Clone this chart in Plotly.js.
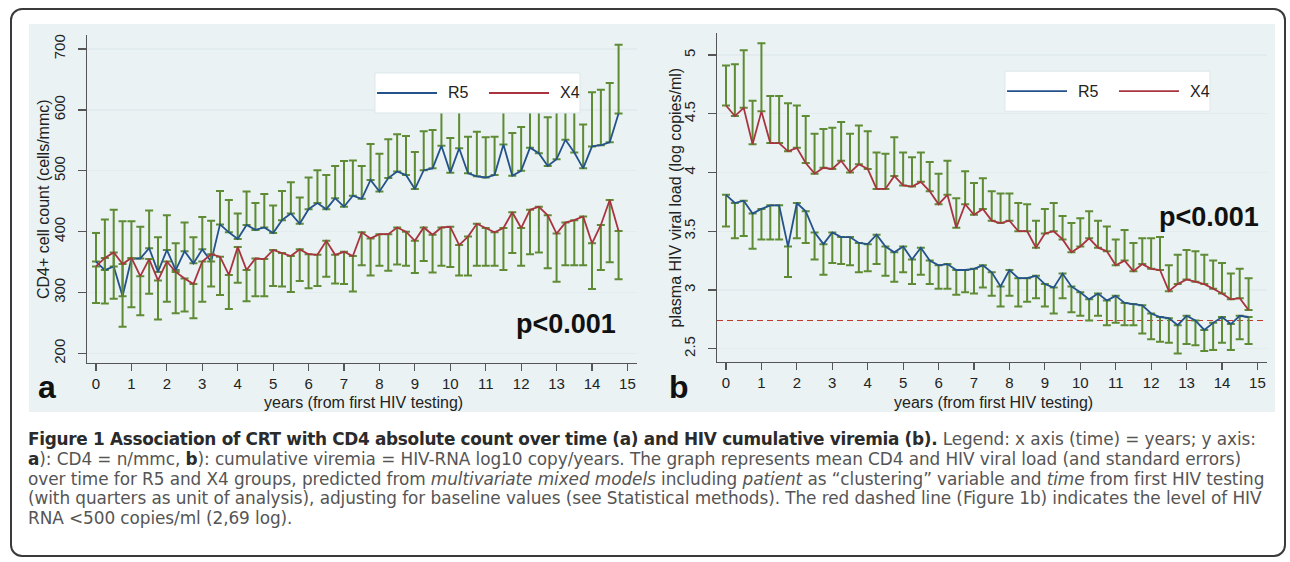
<!DOCTYPE html>
<html>
<head>
<meta charset="utf-8">
<script src="https://cdn.plot.ly/plotly-3.0.1.min.js"></script>
<style>
html,body{margin:0;padding:0;background:#ffffff;}
#wrap{position:relative;width:1290px;height:562px;overflow:hidden;background:#fff;}
#chart{position:absolute;left:0;top:0;width:1290px;height:562px;}
#frame{position:absolute;left:10px;top:8px;width:1276px;height:549px;border:2px solid #3a3a3a;border-radius:12px;pointer-events:none;box-sizing:border-box;}
#caption{position:absolute;left:28px;top:430px;width:1255px;font-family:"DejaVu Sans",Verdana,sans-serif;font-size:16.9px;line-height:19.8px;color:#555;}
#caption div{white-space:nowrap;}
#caption b{color:#2b2b2b;}
</style>
</head>
<body>
<div id="wrap">
  <div id="chart"></div>
  <div id="frame"></div>
  <div id="caption">
    <div><span class="capline"><b id="capTitle">Figure 1 Association of CRT with CD4 absolute count over time (a) and HIV cumulative viremia (b).</b> Legend: x axis (time) = years; y axis:</span></div>
    <div><span class="capline"><b>a</b>): CD4 = n/mmc, <b>b</b>): cumulative viremia = HIV-RNA log10 copy/years. The graph represents mean CD4 and HIV viral load (and standard errors)</span></div>
    <div><span class="capline">over time for R5 and X4 groups, predicted from <i>multivariate mixed models</i> including <i>patient</i> as “clustering” variable and <i>time</i> from first HIV testing</span></div>
    <div><span class="capline">(with quarters as unit of analysis), adjusting for baseline values (see Statistical methods). The red dashed line (Figure 1b) indicates the level of HIV</span></div>
    <div><span class="capline">RNA &lt;500 copies/ml (2,69 log).</span></div>
  </div>
</div>
<script>
// ---------------- data ----------------
const years = [0,0.25,0.5,0.75,1,1.25,1.5,1.75,2,2.25,2.5,2.75,3,3.25,3.5,3.75,4,4.25,4.5,4.75,
  5,5.25,5.5,5.75,6,6.25,6.5,6.75,7,7.25,7.5,7.75,8,8.25,8.5,8.75,9,9.25,9.5,9.75,
  10,10.25,10.5,10.75,11,11.25,11.5,11.75,12,12.25,12.5,12.75,13,13.25,13.5,13.75,14,14.25,14.5,14.75];

const groupNames = ["R5", "X4"];

// Panel a: CD4+ cell count (cells/mmc)
const cd4R5 = [351,337,343,294,356,356,373,334,370,337,368,348,371,351,412,399,388,411,403,407,
  398,419,430,413,437,447,437,455,441,459,454,485,466,488,499,493,470,501,504,541,
  497,537,496,491,489,493,543,492,500,538,529,508,519,551,530,504,540,542,547,594];
const cd4R5Upper = [398,420,436,417,417,408,435,391,427,381,415,391,424,418,467,452,430,466,447,462,
  443,467,481,456,489,501,493,508,516,517,508,544,528,552,560,557,531,565,567,605,
  554,605,556,564,555,556,605,562,572,600,600,588,605,610,600,576,629,633,644,707];
const cd4X4 = [343,357,366,347,357,327,355,320,351,334,323,314,351,363,359,329,375,337,356,355,
  370,365,360,371,363,362,385,362,367,360,399,389,396,396,407,400,385,407,395,407,
  408,378,392,413,406,399,406,432,406,436,441,427,397,415,419,425,381,411,452,401];
const cd4X4Lower = [283,282,290,244,276,263,298,256,285,266,269,258,285,310,296,273,316,286,294,294,
  311,310,301,319,307,311,326,315,314,302,345,328,344,336,346,344,332,352,333,344,
  342,328,328,344,344,344,337,365,344,363,366,340,318,345,345,345,306,337,350,322];

// Panel b: plasma HIV viral load (log copies/ml)
const vlR5 = [3.81,3.74,3.76,3.65,3.69,3.72,3.72,3.37,3.74,3.67,3.49,3.39,3.49,3.45,3.45,3.40,3.39,3.47,3.37,3.32,
  3.37,3.26,3.36,3.25,3.21,3.22,3.17,3.17,3.18,3.21,3.15,3.03,3.17,3.10,3.10,3.12,3.05,3.02,3.14,3.03,
  2.98,2.92,2.97,2.91,2.95,2.89,2.88,2.87,2.80,2.77,2.76,2.70,2.78,2.74,2.66,2.72,2.77,2.71,2.78,2.77];
const vlR5Lower = [3.54,3.44,3.46,3.35,3.43,3.43,3.43,3.11,3.44,3.40,3.26,3.13,3.23,3.22,3.21,3.15,3.16,3.22,3.12,3.07,
  3.15,3.05,3.13,3.05,3.01,3.01,2.96,2.98,2.97,3.02,2.95,2.86,2.95,2.86,2.90,2.93,2.86,2.80,2.93,2.81,
  2.78,2.74,2.78,2.70,2.72,2.70,2.70,2.63,2.58,2.56,2.55,2.46,2.54,2.53,2.48,2.49,2.55,2.49,2.58,2.54];
const vlX4 = [4.57,4.48,4.55,4.24,4.52,4.25,4.25,4.18,4.21,4.08,3.99,4.04,4.03,4.10,4.00,4.07,4.03,3.86,3.86,3.97,
  3.89,3.88,3.92,3.84,3.73,3.81,3.53,3.73,3.64,3.69,3.59,3.57,3.59,3.50,3.50,3.36,3.48,3.50,3.43,3.32,
  3.37,3.44,3.36,3.33,3.21,3.25,3.16,3.22,3.18,3.17,2.99,3.05,3.09,3.07,3.05,3.01,2.97,2.92,2.93,2.83];
const vlX4Upper = [4.91,4.92,5.04,4.61,5.10,4.65,4.65,4.59,4.57,4.48,4.33,4.37,4.38,4.43,4.33,4.40,4.35,4.17,4.16,4.30,
  4.17,4.13,4.17,4.09,3.99,4.10,3.78,4.01,3.91,3.95,3.84,3.82,3.82,3.74,3.73,3.59,3.69,3.74,3.63,3.57,
  3.61,3.67,3.59,3.54,3.43,3.51,3.40,3.44,3.44,3.45,3.21,3.30,3.34,3.33,3.30,3.25,3.23,3.14,3.18,3.10];

const viremiaThreshold = 2.74;   // red dashed reference level as drawn
const pValueText = "p<0.001";
const xTickVals = [0,1,2,3,4,5,6,7,8,9,10,11,12,13,14,15];
const yTickValsA = [200,300,400,500,600,700];
const yTickValsB = [2.5,3,3.5,4,4.5,5];
const yTickTextB = ["2.5","3","3.5","4","4.5","5"];

// ---------------- styling ----------------
const W = 1290, H = 562;
const FONT = "Liberation Sans, Arial, Helvetica, sans-serif";
const BLUE = "#24528a", RED = "#a8343f", GREEN = "#5e8b34";
const BG = "#eaf2f3", GRID = "#e2ecee";

const px = v => v / W;
const py = v => 1 - v / H;

function up(vals, upper) { return upper.map((u, i) => +(u - vals[i]).toFixed(4)); }
function down(vals, lower) { return lower.map((l, i) => +(vals[i] - l).toFixed(4)); }
const zeros = years.map(() => 0);

function series(xa, ya, yv, name, color, plus, minus) {
  return {
    type: "scatter", mode: "lines", x: years, y: yv, name: name,
    xaxis: xa, yaxis: ya, showlegend: false, hoverinfo: "skip",
    line: {color: color, width: 1.8},
    error_y: {type: "data", symmetric: false, array: plus, arrayminus: minus,
              color: GREEN, thickness: 2, width: 4}
  };
}

const traces = [
  series("x", "y", cd4R5, groupNames[0], BLUE, up(cd4R5, cd4R5Upper), zeros),
  series("x", "y", cd4X4, groupNames[1], RED, zeros, down(cd4X4, cd4X4Lower)),
  series("x2", "y2", vlR5, groupNames[0], BLUE, zeros, down(vlR5, vlR5Lower)),
  series("x2", "y2", vlX4, groupNames[1], RED, up(vlX4, vlX4Upper), zeros)
];

function xaxisCfg(domain, anchor) {
  return {
    domain: domain, anchor: anchor, range: [-0.254, 15.27],
    tickmode: "array", tickvals: xTickVals, ticks: "outside", ticklen: 7, tickwidth: 1.2,
    tickcolor: "#555", showline: true, linecolor: "#555", linewidth: 1,
    showgrid: false, zeroline: false,
    tickfont: {family: FONT, size: 15, color: "#222"}
  };
}
function yaxisCfg(domain, anchor, range, vals, text) {
  const c = {
    domain: domain, anchor: anchor, range: range,
    tickmode: "array", tickvals: vals, ticks: "outside", ticklen: 8, tickwidth: 1.2,
    tickcolor: "#555", showline: true, linecolor: "#555", linewidth: 1,
    showgrid: true, gridcolor: GRID, gridwidth: 1.2, zeroline: false,
    tickangle: -90, ticklabelstandoff: 7,
    tickfont: {family: FONT, size: 15, color: "#222"}
  };
  if (text) c.ticktext = text;
  return c;
}

function legendParts(xd, yd) {
  const shapes = [
    {type: "rect", xref: xd, yref: yd, x0: 0.5236, x1: 0.8964, y0: 0.7622, y1: 0.8841,
     fillcolor: "#ffffff", line: {color: "#dde7ea", width: 1}, layer: "above"},
    {type: "line", xref: xd, yref: yd, x0: 0.5273, x1: 0.6364, y0: 0.8232, y1: 0.8232,
     line: {color: BLUE, width: 1.8}, layer: "above"},
    {type: "line", xref: xd, yref: yd, x0: 0.7309, x1: 0.8400, y0: 0.8232, y1: 0.8232,
     line: {color: RED, width: 1.8}, layer: "above"}
  ];
  const ann = [
    {xref: xd, yref: yd, x: 0.6527, y: 0.8232, xanchor: "left", yanchor: "middle",
     text: groupNames[0], showarrow: false, font: {family: FONT, size: 16, color: "#222"}},
    {xref: xd, yref: yd, x: 0.8564, y: 0.8232, xanchor: "left", yanchor: "middle",
     text: groupNames[1], showarrow: false, font: {family: FONT, size: 16, color: "#222"}}
  ];
  return {shapes, ann};
}
const legA = legendParts("x domain", "y domain");
const legB = legendParts("x2 domain", "y2 domain");

const layout = {
  width: W, height: H,
  margin: {l: 0, r: 0, t: 0, b: 0},
  paper_bgcolor: "#ffffff", plot_bgcolor: "#ffffff",
  showlegend: false,
  xaxis: xaxisCfg([px(87), px(637)], "y"),
  yaxis: yaxisCfg([py(363), py(35)], "x", [184.4, 723], yTickValsA, null),
  xaxis2: xaxisCfg([px(717), px(1267)], "y2"),
  yaxis2: yaxisCfg([py(362), py(33)], "x2", [2.387, 5.187], yTickValsB, yTickTextB),
  shapes: [
    {type: "rect", xref: "paper", yref: "paper", x0: px(29), x1: px(1275), y0: py(412), y1: py(24),
     fillcolor: BG, line: {width: 0}, layer: "below"},
    {type: "line", xref: "x2 domain", yref: "y2", x0: 0, x1: 1,
     y0: viremiaThreshold, y1: viremiaThreshold,
     line: {color: "#c0392b", width: 1.2, dash: "6px,4px"}, layer: "below"}
  ].concat(legA.shapes, legB.shapes),
  annotations: [
    {xref: "paper", yref: "paper", x: px(43), y: py(199), text: "CD4+ cell count (cells/mmc)",
     textangle: -90, showarrow: false, xanchor: "center", yanchor: "middle",
     font: {family: FONT, size: 16, color: "#222"}},
    {xref: "paper", yref: "paper", x: px(675), y: py(197.5), text: "plasma HIV viral load (log copies/ml)",
     textangle: -90, showarrow: false, xanchor: "center", yanchor: "middle",
     font: {family: FONT, size: 16, color: "#222"}},
    {xref: "paper", yref: "paper", x: px(363), y: py(402), text: "years (from first HIV testing)",
     showarrow: false, xanchor: "center", yanchor: "middle",
     font: {family: FONT, size: 16, color: "#222"}},
    {xref: "paper", yref: "paper", x: px(993), y: py(402), text: "years (from first HIV testing)",
     showarrow: false, xanchor: "center", yanchor: "middle",
     font: {family: FONT, size: 16, color: "#222"}},
    {xref: "paper", yref: "paper", x: px(47), y: py(387), text: "<b>a</b>",
     showarrow: false, xanchor: "center", yanchor: "middle",
     font: {family: FONT, size: 32, color: "#111"}},
    {xref: "paper", yref: "paper", x: px(678.5), y: py(387), text: "<b>b</b>",
     showarrow: false, xanchor: "center", yanchor: "middle",
     font: {family: FONT, size: 32, color: "#111"}},
    {xref: "paper", yref: "paper", x: px(618), y: py(324), text: "<b>" + pValueText + "</b>",
     showarrow: false, xanchor: "right", yanchor: "middle",
     font: {family: FONT, size: 27, color: "#111"}},
    {xref: "paper", yref: "paper", x: px(1261), y: py(217), text: "<b>" + pValueText + "</b>",
     showarrow: false, xanchor: "right", yanchor: "middle",
     font: {family: FONT, size: 27, color: "#111"}}
  ].concat(legA.ann, legB.ann)
};

Plotly.newPlot("chart", traces, layout, {staticPlot: true, displayModeBar: false});

// fit caption letter spacing: third line spans ~1241px as in the figure, no line past 1250px;
// then tighten the bold title so the first line spans ~1228px
(function fitCaption() {
  const cap = document.getElementById("caption");
  const spans = Array.from(document.querySelectorAll("#caption .capline"));
  const w = spans.map(s => s.getBoundingClientRect().width);
  const n = spans.map(s => s.textContent.length);
  let ls = (1241 - w[2]) / n[2];
  for (let i = 0; i < spans.length; i++) {
    if (w[i] + ls * n[i] > 1250) ls = (1250 - w[i]) / n[i];
  }
  ls = Math.max(-0.6, Math.min(0.8, ls));
  cap.style.letterSpacing = ls.toFixed(3) + "px";
  const title = document.getElementById("capTitle");
  const w1 = spans[0].getBoundingClientRect().width;
  const nb = title.textContent.length;
  const lsb = Math.max(-1, Math.min(0.8, ls + (1228 - w1) / nb));
  title.style.letterSpacing = lsb.toFixed(3) + "px";
})();
</script>
</body>
</html>
